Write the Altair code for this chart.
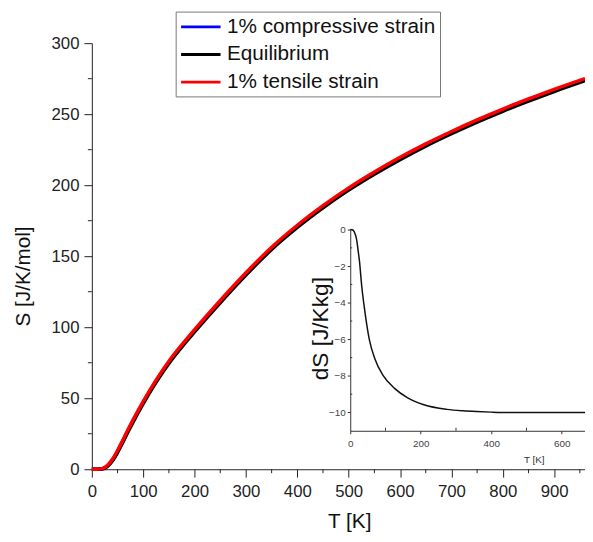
import altair as alt
import pandas as pd

# ---------------- data ----------------
T_main = [0, 10, 20, 30, 40, 50, 60, 70, 80, 100, 125, 150, 175, 200, 250, 300, 350, 400,
          450, 500, 550, 600, 650, 700, 750, 800, 850, 900, 960]
S_compressive = [0, 0, 0.3, 2.3, 6.5, 12.5, 19.5, 26.8, 33.8, 47.0, 62.0, 75.3, 86.8, 97.5, 118.0,
                 137.5, 155.5, 171.0, 184.8, 197.3, 208.5, 218.8, 228.3, 237.0, 245.2, 252.8,
                 259.9, 266.7, 274.3]
S_equilibrium = [0, 0, 0.2, 1.9, 5.8, 11.7, 18.7, 26.0, 33.0, 46.2, 61.2, 74.5, 86.0, 96.7, 117.2,
                 136.7, 154.7, 170.2, 184.0, 196.5, 207.7, 218.0, 227.5, 236.2, 244.4, 252.0,
                 259.1, 265.9, 273.5]
S_tensile = [0, 0, 0.4, 2.6, 7.0, 13.2, 20.3, 27.6, 34.6, 47.8, 62.8, 76.1, 87.6, 98.3, 118.8,
             138.3, 156.3, 171.8, 185.6, 198.1, 209.3, 219.6, 229.1, 237.8, 246.0, 253.6,
             260.7, 267.5, 275.1]
series_names = ["1% compressive strain", "Equilibrium", "1% tensile strain"]
series_colors = ["#0000ff", "#000000", "#ff0000"]

T_inset = [0, 5, 9, 14, 18.6, 22, 26, 32.6, 42, 54, 70, 93, 125.6, 163, 209, 274, 320, 358,
           400, 450, 560, 666]
dS_inset = [0, -0.01, -0.05, -0.25, -0.6, -1.1, -1.7, -3.1, -4.55, -6.0, -7.07, -7.97, -8.68,
            -9.2, -9.58, -9.83, -9.91, -9.95, -9.98, -10, -10, -10]

x_major = [0, 100, 200, 300, 400, 500, 600, 700, 800, 900]
x_minor = [50, 150, 250, 350, 450, 550, 650, 750, 850, 950]
y_major = [0, 50, 100, 150, 200, 250, 300]
y_minor = [25, 75, 125, 175, 225, 275]
xi_major = [0, 200, 400, 600]
xi_minor = [100, 300, 500]
yi_major = [0, -2, -4, -6, -8, -10]
yi_minor = [-1, -3, -5, -7, -9]

FONT = "Liberation Sans"
W, H = 500, 432
XMAX = 960

rows = []
for name, vals in zip(series_names, [S_compressive, S_equilibrium, S_tensile]):
    for t, s in zip(T_main, vals):
        rows.append({"series": name, "T": t, "S": s})
df = pd.DataFrame(rows)

# ---------------- main plot ----------------
xs = alt.Scale(domain=[0, XMAX], nice=False, zero=False)
ys = alt.Scale(domain=[0, 300], nice=False, zero=False)

x_axis = alt.Axis(values=x_major, orient="bottom", title="T [K]", grid=False, tickSize=8,
                  labelFontSize=17, labelPadding=7, labelColor="#222", labelFlush=False,
                  titleFontSize=21, titleFontWeight="normal", titleX=261, titleY=42,
                  titleBaseline="top", titleColor="#111", domainColor="#222",
                  tickColor="#222", format="d")
y_axis = alt.Axis(values=y_major, orient="left", title="S [J/K/mol]", grid=False, tickSize=8,
                  labelFontSize=17, labelPadding=5, labelColor="#222", labelFlush=False,
                  titleFontSize=21, titleFontWeight="normal", titleX=-59, titleY=236,
                  titleColor="#111", domainColor="#222", tickColor="#222", format="d")

color = alt.Color(
    "series:N",
    scale=alt.Scale(domain=series_names, range=series_colors),
    legend=alt.Legend(orient="none", legendX=85, legendY=-32, title=None,
                      strokeColor="#777", fillColor="white", padding=4,
                      symbolType="M-1,0H3", symbolSize=400, symbolStrokeWidth=3,
                      labelFontSize=21, labelFont=FONT, labelColor="#111", labelLimit=0,
                      labelOffset=25, rowPadding=6),
)

lines = [
    alt.Chart(df).transform_filter(alt.datum.series == n)
    .mark_line(strokeWidth=3.5, interpolate="monotone")
    .encode(x=alt.X("T:Q", scale=xs, axis=x_axis),
            y=alt.Y("S:Q", scale=ys, axis=y_axis),
            color=color)
    for n in series_names
]

xminor_rules = alt.Chart(pd.DataFrame({"T": x_minor})).mark_rule(color="#222", strokeWidth=1).encode(
    x=alt.X("T:Q", scale=xs, axis=x_axis), y=alt.value(H), y2=alt.value(H + 4))
yminor_rules = alt.Chart(pd.DataFrame({"S": y_minor})).mark_rule(color="#222", strokeWidth=1).encode(
    y=alt.Y("S:Q", scale=ys, axis=y_axis), x=alt.value(0), x2=alt.value(-4))

main = alt.layer(*lines, xminor_rules, yminor_rules)

# ---------------- inset ----------------
xis = alt.Scale(domain=[0, 666], range=[262, 500], nice=False, zero=False)
yis = alt.Scale(domain=[-11, 0], range=[393, 189], nice=False, zero=False)

xi_axis = alt.Axis(values=xi_major, orient="bottom", offset=-39, title="T [K]", grid=False,
                   tickSize=3, labelFontSize=10, labelPadding=5, labelColor="#444",
                   labelFlush=False, titleFontSize=10, titleFontWeight="normal",
                   titleX=448, titleY=24, titleBaseline="top", titleColor="#333",
                   domainColor="#333", tickColor="#333", format="d")
yi_axis = alt.Axis(values=yi_major, orient="left", offset=-262, title="dS [J/Kkg]", grid=False,
                   tickSize=3, labelFontSize=10, labelPadding=2, labelColor="#444",
                   labelFlush=False, titleFontSize=23, titleFontWeight="normal",
                   titleX=-18, titleY=289, titleColor="#111", domainColor="#333",
                   tickColor="#333", format="d")

inset_df = pd.DataFrame({"T": T_inset, "dS": dS_inset})
inset_line = alt.Chart(inset_df).mark_line(color="#111", strokeWidth=1.5, interpolate="monotone").encode(
    x=alt.X("T:Q", scale=xis, axis=xi_axis), y=alt.Y("dS:Q", scale=yis, axis=yi_axis))
xi_minor_rules = alt.Chart(pd.DataFrame({"T": xi_minor})).mark_rule(color="#333", strokeWidth=1).encode(
    x=alt.X("T:Q", scale=xis, axis=xi_axis), y=alt.value(393), y2=alt.value(390))
yi_minor_rules = alt.Chart(pd.DataFrame({"dS": yi_minor})).mark_rule(color="#333", strokeWidth=1).encode(
    y=alt.Y("dS:Q", scale=yis, axis=yi_axis), x=alt.value(262), x2=alt.value(264))

inset = alt.layer(inset_line, xi_minor_rules, yi_minor_rules)

chart = (
    alt.layer(main, inset)
    .resolve_scale(x="independent", y="independent")
    .resolve_axis(x="independent", y="independent")
    .properties(width=W, height=H, autosize=alt.AutoSizeParams(type="none"),
                padding={"left": 85, "top": 32, "right": 0, "bottom": 62},
                background="white")
    .configure(font=FONT)
    .configure_view(stroke=None)
)

chart.save("out.html", embed_options={"renderer": "svg", "actions": False})
